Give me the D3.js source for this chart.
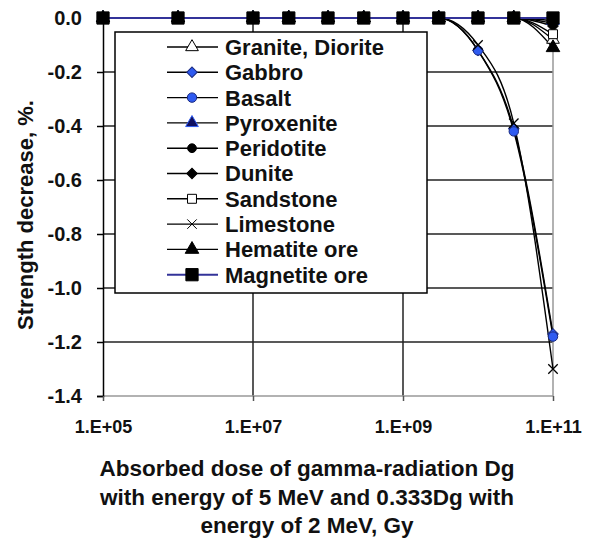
<!DOCTYPE html>
<html><head><meta charset="utf-8">
<script src="https://cdn.jsdelivr.net/npm/d3@7"></script>
<style>body{margin:0;background:#fff}svg{display:block}text{font-family:"Liberation Sans",Arial,sans-serif;font-weight:bold;fill:#111}</style>
</head><body><svg id="c" width="595" height="539"></svg>
<script>
const doses = [1e5, 1e6, 1e7, 3e7, 1e8, 3e8, 1e9, 3e9, 1e10, 3e10, 1e11];
const seriesNames = ["Granite, Diorite","Gabbro","Basalt","Pyroxenite","Peridotite","Dunite","Sandstone","Limestone","Hematite ore","Magnetite ore"];
const granite    = [0,0,0,0,0,0,0,0,0,0,-0.08];
const gabbro     = [0,0,0,0,0,0,0,0,-0.12,-0.41,-1.17];
const basalt     = [0,0,0,0,0,0,0,0,-0.12,-0.42,-1.18];
const pyroxenite = [0,0,0,0,0,0,0,0,0,0,-0.01];
const peridotite = [0,0,0,0,0,0,0,0,0,0,-0.02];
const dunite     = [0,0,0,0,0,0,0,0,0,0,-0.03];
const sandstone  = [0,0,0,0,0,0,0,0,0,0,-0.06];
const limestone  = [0,0,0,0,0,0,0,0,-0.10,-0.39,-1.30];
const hematite   = [0,0,0,0,0,0,0,0,0,0,-0.11];
const magnetite  = [0,0,0,0,0,0,0,0,0,0,0];
const seriesValues = [granite,gabbro,basalt,pyroxenite,peridotite,dunite,sandstone,limestone,hematite,magnetite];
const yTicks = [0,-0.2,-0.4,-0.6,-0.8,-1.0,-1.2,-1.4];
const yTickLabels = ["0.0","-0.2","-0.4","-0.6","-0.8","-1.0","-1.2","-1.4"];
const xTicks = [1e5,1e7,1e9,1e11];
const xTickLabels = ["1.E+05","1.E+07","1.E+09","1.E+11"];
const yTitle = "Strength decrease, %.";
const xTitle = ["Absorbed dose of gamma-radiation Dg","with energy of 5 MeV and 0.333Dg with","energy of 2 MeV, Gy"];

const styles = [
 {sym:d3.symbolTriangle, size:70, rot:0, fill:"#fff", stroke:"#000", line:"#000"},
 {sym:d3.symbolSquare, size:55, rot:45, fill:"#2f5bf0", stroke:"#1a2a80", line:"#000"},
 {sym:d3.symbolCircle, size:70, rot:0, fill:"#2f5bf0", stroke:"#1a2a80", line:"#000"},
 {sym:d3.symbolTriangle, size:70, rot:0, fill:"#101060", stroke:"#2f5bf0", line:"#000"},
 {sym:d3.symbolCircle, size:60, rot:0, fill:"#000", stroke:"#000", line:"#000"},
 {sym:d3.symbolSquare, size:55, rot:45, fill:"#000", stroke:"#000", line:"#000"},
 {sym:d3.symbolSquare, size:80, rot:0, fill:"#fff", stroke:"#000", line:"#000"},
 {sym:d3.symbolX, size:60, rot:0, fill:"none", stroke:"#000", line:"#000"},
 {sym:d3.symbolTriangle, size:80, rot:0, fill:"#000", stroke:"#000", line:"#000"},
 {sym:d3.symbolSquare, size:150, rot:0, fill:"#000", stroke:"#000", line:"#333399"}
];

const svg = d3.select("#c");
const x = d3.scaleLog().domain([1e5,1e11]).range([103,553]);
const y = d3.scaleLinear().domain([-1.4,0]).range([396,18]);

// gridlines
const g = svg.append("g");
g.selectAll(".hg").data(yTicks.filter(v=>v>-1.4)).enter().append("line")
 .attr("x1",103).attr("x2",553).attr("y1",d=>y(d)).attr("y2",d=>y(d))
 .attr("stroke","#222").attr("stroke-width",1.5);
g.selectAll(".vg").data(xTicks.slice(1,3)).enter().append("line")
 .attr("x1",d=>x(d)).attr("x2",d=>x(d)).attr("y1",18).attr("y2",396)
 .attr("stroke","#222").attr("stroke-width",1.5);
svg.append("path").attr("d",`M103,396H553V18`).attr("fill","none").attr("stroke","#999").attr("stroke-width",1.5);

// y axis
const yAxis = d3.axisLeft(y).tickValues(yTicks).tickSize(6).tickFormat((d,i)=>yTickLabels[i]);
const ya = svg.append("g").attr("transform","translate(103,0)").call(yAxis);
ya.select(".domain").attr("stroke","#000").attr("stroke-width",1.5);
ya.selectAll(".tick line").attr("stroke","#000").attr("stroke-width",1.5);
ya.selectAll("text").attr("x",-21).attr("font-size",20).attr("font-family","Liberation Sans").attr("font-weight","bold").attr("fill","#111");
// x axis
const xAxis = d3.axisBottom(x).tickValues(xTicks).tickSize(5).tickFormat((d,i)=>xTickLabels[i]);
const xa = svg.append("g").attr("transform","translate(0,396)").call(xAxis);
xa.select(".domain").remove();
xa.selectAll(".tick line").attr("stroke","#555").attr("stroke-width",1.5);
xa.selectAll("text").attr("y",24).attr("font-size",18).attr("font-family","Liberation Sans").attr("font-weight","bold").attr("fill","#111");

// lines
const line = d3.line().x((d,i)=>x(doses[i])).y(d=>y(d)).curve(d3.curveMonotoneX);
seriesValues.forEach((vals,si)=>{
  const st = styles[si];
  svg.append("path").attr("d",line(vals)).attr("fill","none").attr("stroke",st.line).attr("stroke-width",si===9?2:1.4);
});
seriesValues.forEach((vals,si)=>{
  const st = styles[si];
  const sym = d3.symbol().type(st.sym).size(st.size);
  svg.append("g").selectAll("path").data(vals).enter().append("path")
   .attr("d",sym).attr("transform",(d,i)=>`translate(${x(doses[i])},${y(d)}) rotate(${st.rot})`)
   .attr("fill",st.fill).attr("stroke",st.stroke).attr("stroke-width",st.sym===d3.symbolX?1.3:1);
});

// legend
const lg = svg.append("g");
lg.append("rect").attr("x",115).attr("y",32).attr("width",312).attr("height",261).attr("fill","#fff").attr("stroke","#000").attr("stroke-width",1.5);
seriesNames.forEach((name,si)=>{
  const st = styles[si];
  const yy = 47 + si*25.3;
  lg.append("line").attr("x1",167).attr("x2",218).attr("y1",yy).attr("y2",yy).attr("stroke",st.line).attr("stroke-width",si===9?2:1.4);
  lg.append("path").attr("d",d3.symbol().type(st.sym).size(st.size)()).attr("transform",`translate(192,${yy}) rotate(${st.rot})`)
    .attr("fill",st.fill).attr("stroke",st.stroke).attr("stroke-width",1);
  lg.append("text").attr("x",225).attr("y",yy).attr("dy","0.36em").attr("font-size",22).text(name);
});

// titles
svg.append("text").attr("transform","translate(33,215) rotate(-90)").attr("text-anchor","middle").attr("font-size",22).text(yTitle);
xTitle.forEach((t,i)=>{
  svg.append("text").attr("x",307).attr("y",468+i*28.5).attr("dy","0.36em").attr("text-anchor","middle").attr("font-size",22.5).text(t);
});
</script></body></html>
